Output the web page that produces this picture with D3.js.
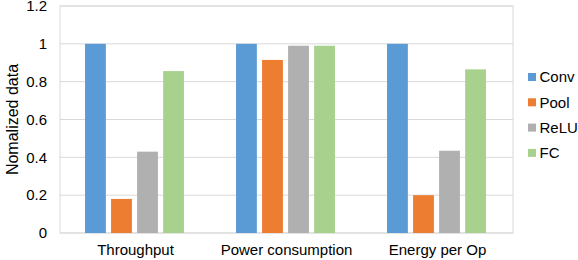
<!DOCTYPE html>
<html><head><meta charset="utf-8">
<script src="https://cdn.jsdelivr.net/npm/d3@7"></script>
<style>body{margin:0;background:#fff}svg{display:block;font-family:"Liberation Sans",Arial,sans-serif}</style>
</head><body><svg id="c" width="578" height="260"></svg>
<script>
const categories = ["Throughput", "Power consumption", "Energy per Op"];
const seriesNames = ["Conv", "Pool", "ReLU", "FC"];
const conv = [1, 1, 1];
const pool = [0.18, 0.915, 0.2];
const relu = [0.43, 0.99, 0.435];
const fc = [0.856, 0.99, 0.865];
const yTicks = [0, 0.2, 0.4, 0.6, 0.8, 1, 1.2];
const colors = ["#5B9BD5", "#ED7D31", "#B0B0B0", "#A9D18E"];
const series = [conv, pool, relu, fc];

const svg = d3.select("#c");
const m = {l: 60, r: 65, t: 6, b: 27};
const W = 578, H = 260;
const x0 = d3.scaleBand().domain(categories).range([m.l, W - m.r]).paddingInner(0).paddingOuter(0);
const x1 = d3.scaleBand().domain(seriesNames).range([0, x0.bandwidth()]).paddingInner(0.2).paddingOuter(1.0);
const y = d3.scaleLinear().domain([0, 1.2]).range([H - m.b, m.t]);

svg.append("g").selectAll("line").data(yTicks).join("line")
  .attr("x1", m.l).attr("x2", W - m.r)
  .attr("y1", d => y(d)).attr("y2", d => y(d))
  .attr("stroke", "#d9d9d9").attr("stroke-width", 1);
svg.append("rect").attr("x", m.l).attr("y", m.t).attr("width", W - m.r - m.l).attr("height", H - m.b - m.t)
  .attr("fill", "none").attr("stroke", "#d9d9d9");

const g = svg.append("g");
categories.forEach((c, ci) => {
  series.forEach((s, si) => {
    g.append("rect")
      .attr("x", x0(c) + x1(seriesNames[si]) - 1)
      .attr("width", x1.bandwidth())
      .attr("y", y(s[ci]))
      .attr("height", y(0) - y(s[ci]))
      .attr("fill", colors[si]);
  });
});

const FS = 15;
const ya = d3.axisLeft(y).tickValues(yTicks).tickSize(0).tickPadding(0).tickFormat(d => d3.format("")(d));
const yg = svg.append("g").attr("transform", `translate(${m.l - 13},0)`).call(ya);
yg.select(".domain").remove();
yg.selectAll("text").attr("font-size", FS).attr("fill", "#000").attr("font-family", "Liberation Sans, Arial, sans-serif");

const xa = d3.axisBottom(x0).tickSize(0).tickPadding(0);
const xg = svg.append("g").attr("transform", `translate(0,${H - m.b + 11})`).call(xa);
xg.select(".domain").remove();
xg.selectAll("text").attr("font-size", FS).attr("fill", "#000").attr("font-family", "Liberation Sans, Arial, sans-serif");

svg.append("text").attr("transform", `translate(18,${(m.t + H - m.b) / 2 + 0}) rotate(-90)`)
  .attr("text-anchor", "middle").attr("font-size", 16).text("Nomalized data");

const lg = svg.append("g").attr("transform", "translate(528,77)");
seriesNames.forEach((n, i) => {
  lg.append("rect").attr("x", 0).attr("y", i * 25.3 - 4).attr("width", 8).attr("height", 8).attr("fill", colors[i]);
  lg.append("text").attr("x", 11.5).attr("y", i * 25.3).attr("dy", "0.35em").attr("font-size", FS).text(n);
});
</script></body></html>
